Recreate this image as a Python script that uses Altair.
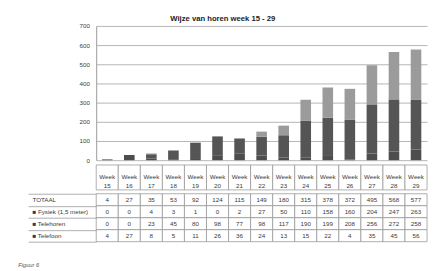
import altair as alt
import pandas as pd

weeks = ["15", "16", "17", "18", "19", "20", "21", "22", "23", "24", "25", "26", "27", "28", "29"]
totaal = [4, 27, 35, 53, 92, 124, 115, 149, 180, 315, 378, 372, 495, 568, 577]
fysiek = [0, 0, 4, 3, 1, 0, 2, 27, 50, 110, 158, 160, 204, 247, 263]
telehoren = [0, 0, 23, 45, 80, 98, 77, 98, 117, 190, 199, 208, 256, 272, 258]
telefoon = [4, 27, 8, 5, 11, 26, 36, 24, 13, 15, 22, 4, 35, 45, 56]

series_names = ["Telefoon", "Telehoren", "Fysiek (1,5 meter)"]
series_colors = ["#4d4d4d", "#555555", "#9b9b9b"]
row_labels = [" TOTAAL", "■ Fysiek (1,5 meter)", "■ Telehoren", "■ Telefoon"]
y_ticks = [0, 100, 200, 300, 400, 500, 600, 700]
header_word = "Week"
title_text = "Wijze van horen week 15 - 29"
caption_text = "Figuur 6"

series_values = [telefoon, telehoren, fysiek]
bars_rows = []
for order, (name, vals) in enumerate(zip(series_names, series_values)):
    for w, v in zip(weeks, vals):
        bars_rows.append({"week": w, "serie": name, "value": v, "order": order})
bars_df = pd.DataFrame(bars_rows)

table_values = [totaal, fysiek, telehoren, telefoon]
table_rows = []
for lab, vals in zip(row_labels, table_values):
    for w, v in zip(weeks, vals):
        table_rows.append({"week": w, "row": lab, "value": v})
table_df = pd.DataFrame(table_rows)

header_df = pd.DataFrame({"week": weeks, "label": [header_word + "\n" + w for w in weeks]})

W = 345
FONT = "Liberation Sans"
LINE = "#979797"
TXT = "#3a3a3a"
FS = 6.5

xband = alt.Scale(paddingInner=0, paddingOuter=0)

bars = alt.Chart(bars_df).mark_bar(width=alt.RelativeBandSize(0.48)).encode(
    x=alt.X("week:N", sort=weeks, scale=xband, axis=None),
    y=alt.Y("value:Q", stack="zero",
            scale=alt.Scale(domain=[0, 700], nice=False),
            axis=alt.Axis(values=y_ticks, title=None, ticks=False, labelPadding=7,
                          grid=True, gridColor="#b3b3b3", domainColor=LINE,
                          labelFontSize=FS, labelColor=TXT, labelFont=FONT)),
    color=alt.Color("serie:N", scale=alt.Scale(domain=series_names, range=series_colors), legend=None),
    order=alt.Order("order:Q"),
).properties(width=W, height=140)

hbase = alt.Chart(header_df).encode(x=alt.X("week:N", sort=weeks, scale=xband, axis=None))
header = (
    hbase.mark_rect(fill="white", stroke=LINE, strokeWidth=0.8)
    + hbase.mark_text(fontSize=FS, font=FONT, color=TXT, lineBreak="\n", lineHeight=9,
                      baseline="middle").encode(text="label:N")
).properties(width=W, height=26)

base = alt.Chart(table_df).encode(
    x=alt.X("week:N", sort=weeks, scale=xband, axis=None),
    y=alt.Y("row:N", sort=row_labels, scale=alt.Scale(paddingInner=0, paddingOuter=0),
            axis=alt.Axis(title=None, tickBand="extent", tickSize=71, tickColor=LINE,
                          tickWidth=0.8, labelAlign="left", labelPadding=-4, domain=False,
                          labelFontSize=FS, labelColor=TXT, labelFont=FONT)),
)
cells = base.mark_rect(fill="white", stroke=LINE, strokeWidth=0.8)
texts = base.mark_text(fontSize=FS, font=FONT, color=TXT).encode(text="value:Q")
table = (cells + texts).properties(
    width=W, height=50,
    title=alt.TitleParams(caption_text, orient="bottom", anchor="start", fontSize=6,
                          fontStyle="italic", fontWeight="normal", font=FONT, color="#555",
                          offset=21, dx=-10),
)

chart = alt.vconcat(bars, header, table, spacing=0).properties(
    title=alt.TitleParams(title_text, anchor="middle", fontSize=8, fontWeight="bold",
                          font=FONT, color="#222", offset=0),
    padding={"left": 10, "top": 2, "right": 0, "bottom": 0},
).configure_view(stroke=None)

chart.save("out.html", embed_options={"renderer": "svg", "actions": False})
